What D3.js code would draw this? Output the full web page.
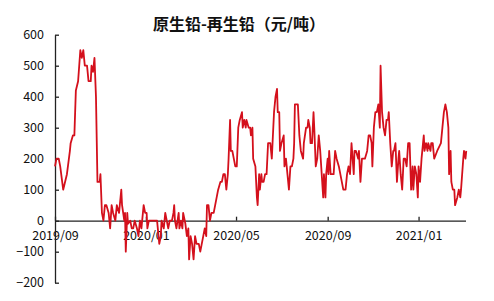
<!DOCTYPE html>
<html>
<head>
<meta charset="utf-8">
<script src="https://cdn.jsdelivr.net/npm/d3@7"></script>
<style>
  body { margin: 0; background: #fff; }
  svg { display: block; font-family: "Noto Sans CJK SC", "Noto Sans", sans-serif; }
</style>
</head>
<body>
<div id="main-vis"></div>
<script>
// days since 2019-09-01
const dayOffsets = [0,2,5,7,11,16,20,21,24,26,28,31,34,36,38,40,43,45,48,49,51,53,55,57,60,61,63,65,67,69,72,74,76,78,81,83,86,87,89,90,93,94,95,97,98,101,103,105,107,110,112,114,116,119,121,123,124,126,128,132,137,139,140,142,143,146,148,150,152,154,157,159,160,161,163,166,167,169,171,172,175,177,179,180,182,184,186,188,190,193,195,197,199,201,203,204,206,208,210,213,215,217,219,222,224,226,228,230,232,233,235,236,238,240,242,244,246,248,251,252,254,256,257,260,262,263,265,266,269,271,272,274,275,277,278,280,282,284,286,289,291,292,294,296,298,299,301,302,304,307,308,310,312,314,316,318,320,321,322,325,326,328,330,333,334,337,339,340,342,343,345,347,348,350,352,354,356,358,360,361,363,364,366,367,368,370,372,374,376,378,381,383,385,387,390,392,394,396,398,401,402,404,407,408,410,412,414,416,419,421,423,425,426,428,430,432,434,436,437,439,441,443,445,447,448,450,452,454,455,457,459,461,462,464,466,468,470,472,474,476,478,480,481,483,485,487,488,490,492,495,496,498,500,501,504,505,507,509,513,518,520,522,524,526,528,529,531,532,534,536,537,540,542,544,545,548,549,551,552];

// 原生铅-再生铅 spread, 元/吨
const spread = [175,200,200,175,100,150,225,250,275,275,420,450,550,525,550,500,500,450,450,500,480,525,400,125,125,150,25,0,50,50,25,-25,50,25,0,50,25,50,100,50,0,25,-100,25,-10,0,-25,-25,0,-25,-50,0,-25,50,25,25,-25,0,0,0,0,-50,-75,-50,0,-25,25,0,-25,0,0,25,50,0,-25,25,-25,0,-25,25,-10,-50,-25,-125,-50,-75,-125,-50,-75,-75,-100,-75,-50,-25,-50,50,50,0,25,25,50,75,100,125,125,150,150,100,150,200,325,225,225,200,175,175,300,325,350,300,325,300,325,300,300,275,300,200,175,75,50,150,100,150,125,125,150,150,250,250,200,250,350,400,425,350,350,225,250,275,175,200,150,100,175,175,200,250,375,375,375,275,225,200,250,300,300,325,300,250,250,350,300,175,200,275,225,150,75,150,75,150,200,150,225,150,150,150,225,200,175,150,125,100,100,150,175,150,250,150,225,225,200,225,125,200,200,200,225,275,275,250,175,300,350,350,375,300,500,350,300,275,325,325,350,250,175,225,225,250,125,200,225,150,100,200,200,175,250,250,100,175,100,175,150,75,175,125,200,275,225,250,225,250,225,250,250,200,225,250,300,350,375,350,300,150,225,125,100,100,50,75,100,75,100,200,225,200,225];

const tickDates = ["2019-09-01", "2020-01-01", "2020-05-01", "2020-09-01", "2021-01-01"];
const yTicks = [-200, -100, 0, 100, 200, 300, 400, 500, 600];
const title = "原生铅-再生铅（元/吨）";

const width = 494, height = 301;
const start = new Date(2019, 8, 1);
const parse = d3.timeParse("%Y-%m-%d");

const data = dayOffsets.map((d, i) => ({ date: d3.timeDay.offset(start, d), value: spread[i] }));

const x = d3.scaleTime()
    .domain([start, d3.timeDay.offset(start, 551)])
    .range([55, 465.5]);

const y = d3.scaleLinear()
    .domain([-200, 600])
    .range([282.7, 34.7]);

const svg = d3.create("svg")
    .attr("width", width)
    .attr("height", height);

svg.append("text")
    .attr("x", 239)
    .attr("y", 30)
    .attr("text-anchor", "middle")
    .attr("font-size", 16)
    .attr("font-weight", "bold")
    .attr("fill", "#111")
    .text(title);

// x axis sits on the zero line, ticks point up
const xAxis = svg.append("g")
    .attr("transform", `translate(0,${y(0)})`)
    .call(d3.axisBottom(x)
        .tickValues(tickDates.map(parse))
        .tickFormat(d3.timeFormat("%Y/%m"))
        .tickSize(-4)
        .tickSizeOuter(0)
        .tickPadding(10));

const yAxis = svg.append("g")
    .attr("transform", "translate(55,0)")
    .call(d3.axisLeft(y)
        .tickValues(yTicks)
        .tickSize(-4)
        .tickSizeOuter(0)
        .tickPadding(11));

for (const g of [xAxis, yAxis]) {
    g.select(".domain").attr("stroke", "#222").attr("stroke-width", 1.3);
    g.selectAll(".tick line").attr("stroke", "#222").attr("stroke-width", 1.3);
    g.selectAll(".tick text")
        .attr("fill", "#111")
        .attr("font-size", 12.5)
        .attr("font-family", "'Noto Sans CJK SC', sans-serif");
}

const line = d3.line()
    .x(d => x(d.date))
    .y(d => y(d.value));

svg.append("path")
    .datum(data)
    .attr("fill", "none")
    .attr("stroke", "#d4101c")
    .attr("stroke-width", 1.8)
    .attr("stroke-linejoin", "round")
    .attr("d", line);

d3.select("#main-vis").node().appendChild(svg.node());
</script>
</body>
</html>
